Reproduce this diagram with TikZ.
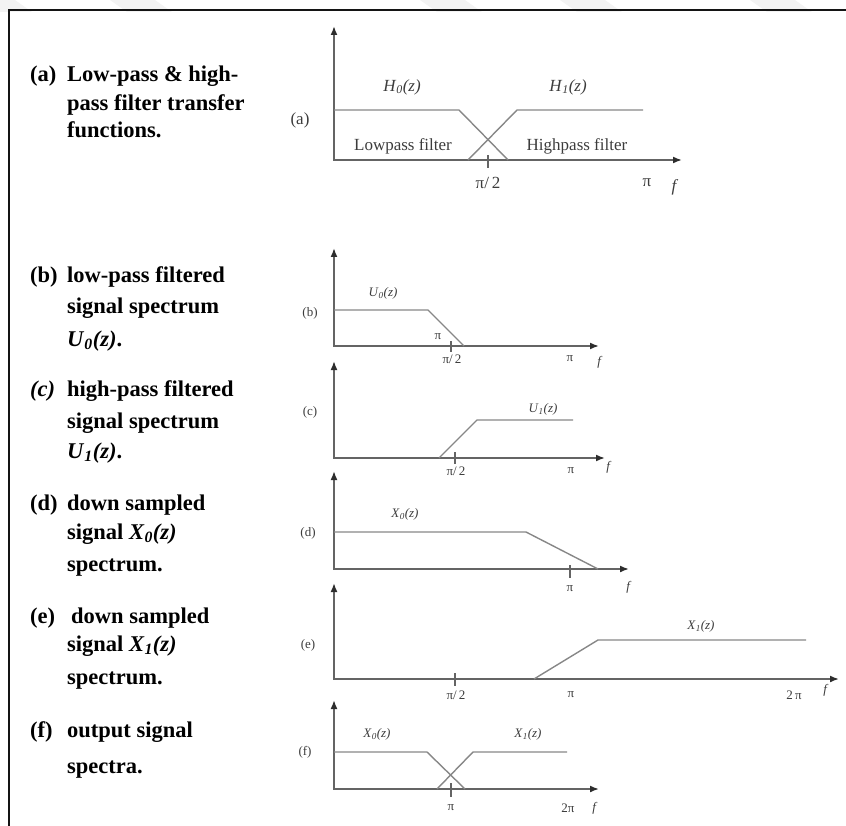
\documentclass[tikz,border=0pt]{standalone}
\usepackage{fontspec}
\setmainfont{Liberation Serif}
\usepackage{xcolor}
\definecolor{framegray}{RGB}{20,20,20}
\definecolor{axisgray}{RGB}{100,100,100}
\definecolor{tipgray}{RGB}{45,45,45}
\definecolor{respgray}{RGB}{135,135,135}
\definecolor{labgray}{RGB}{60,60,60}
\definecolor{markgray}{RGB}{243,243,243}
\usetikzlibrary{arrows.meta}
\newcommand{\sigz}[2]{\textit{#1}\textsubscript{\textit{#2}}\textit{(z)}}

\begin{document}
\begin{tikzpicture}[x=1pt, y=-1pt,
    axis/.style={draw=axisgray, line width=1.7pt,
      {Latex[length=9pt,width=7pt,color=tipgray]}-{Latex[length=9pt,width=7pt,color=tipgray]}},
    resp/.style={draw=respgray, line width=1.4pt},
    tickmark/.style={draw=axisgray, line width=1.2pt},
    capt/.style={font=\fontsize{22.5}{25}\selectfont\bfseries, anchor=base west, inner sep=0pt},
    biglab/.style={font=\fontsize{17}{19}\selectfont, labgray, inner sep=0pt},
    plab/.style={font=\fontsize{13}{15}\selectfont, labgray, inner sep=0pt}]
      \useasboundingbox (0,0) rectangle (846,826);

      % faint marks above the frame
      \foreach \wx in {-30,110,420,560,750}
        \fill[markgray] (\wx,0) -- (\wx+45,0) -- (\wx+62,12) -- (\wx+17,12) -- cycle;

      % frame
      \draw[framegray, line width=2pt] (846,10) -- (9,10) -- (9,826);

      % Captions
      \node[capt] (capA) at (30,82) {(a)};
      \node[capt] (capA1) at (67,82) {Low-pass \& high-};
      \node[capt] (capA2) at (67,111) {pass filter transfer};
      \node[capt] (capA3) at (67,138) {functions.};

      \node[capt] (capB) at (30,283) {(b)};
      \node[capt] (capB1) at (67,283) {low-pass filtered};
      \node[capt] (capB2) at (67,314) {signal spectrum};
      \node[capt] (capB3) at (67,346) {\sigz{U}{0}.};

      \node[capt] (capC) at (30,396) {\textit{(c)}};
      \node[capt] (capC1) at (67,396) {high-pass filtered};
      \node[capt] (capC2) at (67,428) {signal spectrum};
      \node[capt] (capC3) at (67,458) {\sigz{U}{1}.};

      \node[capt] (capD) at (30,510) {(d)};
      \node[capt] (capD1) at (67,510) {down sampled};
      \node[capt] (capD2) at (67,539) {signal \sigz{X}{0}};
      \node[capt] (capD3) at (67,571) {spectrum.};

      \node[capt] (capE) at (30,623) {(e)};
      \node[capt] (capE1) at (71,623) {down sampled};
      \node[capt] (capE2) at (67,651) {signal \sigz{X}{1}};
      \node[capt] (capE3) at (67,684) {spectrum.};

      \node[capt] (capF) at (30,737) {(f)};
      \node[capt] (capF1) at (67,737) {output signal};
      \node[capt] (capF2) at (67,773) {spectra.};

      % (a) filters
      \draw[axis] (334,26) -- (334,160) -- (682,160);
      \draw[resp] (334,110) -- (459,110) -- (508,160);
      \draw[resp] (468,160) -- (517,110) -- (643,110);
      \draw[tickmark] (488,155) -- (488,168);
      \node[biglab] (tagA) at (300,120) {(a)};
      \node[biglab] (hzero) at (402,87) {\sigz{H}{0}};
      \node[biglab] (hone) at (568,87) {\sigz{H}{1}};
      \node[biglab] (lowtxt) at (403,146) {Lowpass filter};
      \node[biglab] (hightxt) at (577,146) {Highpass filter};
      \node[biglab] (halfA) at (488,183) {π/\,2};
      \node[biglab] (piA) at (647,183) {π};
      \node[biglab] (fA) at (675,187) {\textit{f}};

      % (b) low-pass output
      \draw[axis] (334,248) -- (334,346) -- (599,346);
      \draw[resp] (334,310) -- (428,310) -- (464,346);
      \draw[tickmark] (451,341) -- (451,352);
      \node[plab] (tagB) at (310,313) {(b)};
      \node[plab] (uzero) at (383,293) {\sigz{U}{0}};
      \node[plab] (strayB) at (438,337) {π};
      \node[plab] (halfB) at (452,359) {π/\,2};
      \node[plab] (piB) at (570,359) {π};
      \node[plab] (fB) at (600,362) {\textit{f}};

      % (c) high-pass output
      \draw[axis] (334,361) -- (334,458) -- (605,458);
      \draw[resp] (439,458) -- (477,420) -- (573,420);
      \draw[tickmark] (455,452) -- (455,464);
      \node[plab] (tagC) at (310,412) {(c)};
      \node[plab] (uone) at (543,409) {\sigz{U}{1}};
      \node[plab] (halfC) at (456,471) {π/\,2};
      \node[plab] (piC) at (571,471) {π};
      \node[plab] (fC) at (609,467) {\textit{f}};

      % (d) down sampled X0
      \draw[axis] (334,471) -- (334,569) -- (629,569);
      \draw[resp] (334,532) -- (526,532) -- (598,569);
      \draw[tickmark] (570,565) -- (570,578);
      \node[plab] (tagD) at (308,533) {(d)};
      \node[plab] (xzeroD) at (405,514) {\sigz{X}{0}};
      \node[plab] (piD) at (570,589) {π};
      \node[plab] (fD) at (629,587) {\textit{f}};

      % (e) down sampled X1
      \draw[axis] (334,583) -- (334,679) -- (839,679);
      \draw[resp] (534,679) -- (598,640) -- (806,640);
      \draw[tickmark] (455,673) -- (455,686);
      \node[plab] (tagE) at (308,645) {(e)};
      \node[plab] (xoneE) at (701,626) {\sigz{X}{1}};
      \node[plab] (halfE) at (456,695) {π/\,2};
      \node[plab] (piE) at (571,695) {π};
      \node[plab] (twopiE) at (794,695) {2\,π};
      \node[plab] (fE) at (826,690) {\textit{f}};

      % (f) output spectra
      \draw[axis] (334,700) -- (334,789) -- (599,789);
      \draw[resp] (334,752) -- (427,752) -- (465,789);
      \draw[resp] (437,789) -- (473,752) -- (567,752);
      \draw[tickmark] (451,783) -- (451,797);
      \node[plab] (tagF) at (305,752) {(f)};
      \node[plab] (xzeroF) at (377,734) {\sigz{X}{0}};
      \node[plab] (xoneF) at (528,734) {\sigz{X}{1}};
      \node[plab] (piF) at (451,808) {π};
      \node[plab] (twopiF) at (568,808) {2π};
      \node[plab] (fF) at (595,808) {\textit{f}};
    \end{tikzpicture}
\end{document}
